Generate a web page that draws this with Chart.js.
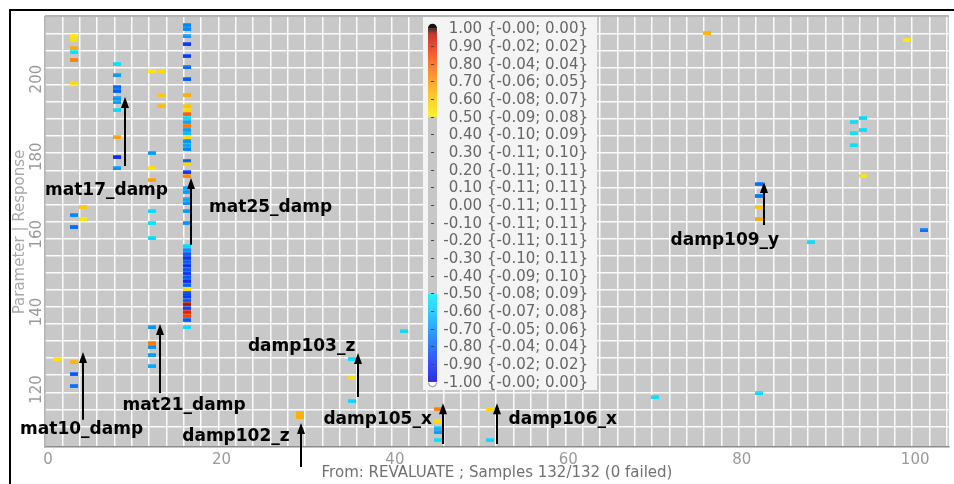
<!DOCTYPE html>
<html>
<head>
<meta charset="utf-8">
<script src="https://cdn.jsdelivr.net/npm/chart.js@4.4.1/dist/chart.umd.min.js"></script>
<style>
  html, body { margin: 0; padding: 0; background: #fff; }
</style>
</head>
<body>
<canvas id="corrChart" width="954" height="484"></canvas>
<script>
// axis labels
const xTickLabels = [0, 20, 40, 60, 80, 100];
const yTickLabels = [120, 140, 160, 180, 200];

// correlation cells, one entry per sample column: parameter indices and correlations
const colSample = [1, 3, 4, 8, 12, 13, 16, 29, 35, 41, 45, 51, 70, 76, 82, 88, 93, 94, 99, 101];
const colParams = [
  [128],
  [211, 210, 208, 207, 205, 199, 165, 162, 127, 124, 121],
  [167, 164],
  [204, 201, 198, 197, 195, 194, 192, 185, 180, 177],
  [202, 181, 177, 174, 166, 163, 159, 136, 132, 131, 129, 126],
  [202, 196, 193],
  [214, 213, 211, 209, 206, 203, 200, 196, 193, 192, 191, 190, 189, 188, 187, 186, 185, 184, 183, 182, 179, 178, 176, 175,
   172, 171, 169, 168, 166, 163, 157, 156, 155, 154, 153, 152, 151, 150, 149, 148, 147, 146, 145, 144, 143, 142, 141, 140, 139, 138, 136],
  [114, 113],
  [128, 123, 117],
  [135],
  [115, 112, 110, 109, 107],
  [115, 107],
  [118],
  [212],
  [173, 170, 167, 164, 119],
  [158],
  [189, 186, 183],
  [190, 187, 175],
  [210],
  [161]
];
const colCorr = [
  [0.53],
  [0.52, 0.54, 0.66, -0.53, 0.74, 0.56, -0.72, -0.78, 0.64, -0.8, -0.76],
  [0.6, 0.53],
  [-0.54, -0.68, -0.76, -0.8, -0.7, -0.68, -0.55, 0.68, -0.9, -0.7],
  [0.53, -0.68, 0.54, 0.68, -0.55, -0.53, -0.55, -0.7, 0.75, -0.7, -0.68, -0.66],
  [0.56, 0.6, 0.62],
  [-0.72, -0.72, -0.68, -0.88, -0.86, -0.78, -0.8, 0.65, 0.6, 0.55, 0.8, -0.55, -0.66, 0.76, -0.68, -0.62, 0.55, -0.7, -0.66, -0.72, -0.78, 0.56, -0.88, 0.73,
   -0.64, -0.68, -0.66, -0.7, -0.68, -0.7, -0.55, -0.7, -0.8, -0.88, -0.8, -0.9, -0.82, -0.88, -0.8, -0.9, -0.78, 0.55, -0.82, -0.88, -0.8, 0.97, -0.85, 0.9, 0.85, -0.8, -0.55],
  [0.65, 0.65],
  [-0.54, 0.55, -0.55],
  [-0.55],
  [0.74, 0.55, -0.62, -0.68, -0.53],
  [0.56, -0.55],
  [-0.54],
  [0.64],
  [-0.76, -0.74, 0.6, 0.66, -0.55],
  [-0.54],
  [-0.54, -0.53, -0.54],
  [-0.55, -0.54, 0.53],
  [0.52],
  [-0.76]
];

// colour scale legend
const legendLevels = ['1.00', '0.90', '0.80', '0.70', '0.60', '0.50', '0.40', '0.30', '0.20', '0.10', '0.00',
  '-0.10', '-0.20', '-0.30', '-0.40', '-0.50', '-0.60', '-0.70', '-0.80', '-0.90', '-1.00'];
const legendBounds = ['{-0.00; 0.00}', '{-0.02; 0.02}', '{-0.04; 0.04}', '{-0.06; 0.05}', '{-0.08; 0.07}',
  '{-0.09; 0.08}', '{-0.10; 0.09}', '{-0.11; 0.10}', '{-0.11; 0.11}', '{-0.11; 0.11}', '{-0.11; 0.11}',
  '{-0.11; 0.11}', '{-0.11; 0.11}', '{-0.10; 0.11}', '{-0.09; 0.10}', '{-0.08; 0.09}', '{-0.07; 0.08}',
  '{-0.05; 0.06}', '{-0.04; 0.04}', '{-0.02; 0.02}', '{-0.00; 0.00}'];

// annotations (data units)
const annoLabel = ['mat17_damp', 'mat25_damp', 'mat10_damp', 'mat21_damp', 'damp102_z', 'damp103_z', 'damp105_x', 'damp106_x', 'damp109_y'];
const annoTextX = [-0.35, 18.57, -3.22, 8.6, 15.48, 23.05, 31.76, 53.1, 71.79];
const annoTextY = [171.4, 167.0, 109.6, 115.8, 107.8, 131.0, 112.2, 112.2, 158.3];
const arrowX = [8.83, 16.51, 4.01, 12.95, 29.13, 35.78, 45.53, 51.8, 82.57];
const arrowFrom = [177.6, 157.3, 112.2, 119.1, 100.05, 118.1, 106.0, 106.0, 162.4];
const arrowTo = [195.4, 174.5, 129.7, 136.9, 111.4, 129.4, 116.5, 116.5, 173.5];

const xGridLines = [];
for (let k = 1; k <= 52; k++) xGridLines.push(2 * k - 0.35);
const yGridLines = [];
for (let k = 0; k <= 23; k++) yGridLines.push(110.5 + 4.4 * k);

const posStops = [[0.5, [255, 242, 0]], [0.6, [255, 200, 0]], [0.7, [255, 150, 0]], [0.8, [255, 95, 0]],
  [0.9, [240, 30, 0]], [0.97, [175, 20, 0]], [1.0, [30, 0, 0]]];
const negStops = [[-1.0, [0, 0, 215]], [-0.9, [10, 40, 255]], [-0.8, [0, 90, 255]], [-0.7, [0, 145, 255]],
  [-0.6, [0, 200, 255]], [-0.5, [0, 240, 255]]];

function corrColor(v) {
  if (v > -0.5 && v < 0.5) return null;
  const stops = v >= 0.5 ? posStops : negStops;
  for (let i = 0; i < stops.length - 1; i++) {
    const [a, ca] = stops[i], [b, cb] = stops[i + 1];
    if (v >= a && v <= b) {
      const t = (v - a) / (b - a);
      const c = ca.map((x, j) => Math.round(x + (cb[j] - x) * t));
      return 'rgb(' + c.join(',') + ')';
    }
  }
  return 'rgb(' + stops[stops.length - 1][1].join(',') + ')';
}

const cellCache = {};
function cellImage(v) {
  const col = corrColor(v) || '#c8c8c8';
  if (!cellCache[col]) {
    const c = document.createElement('canvas');
    c.width = 8; c.height = 4;
    const g = c.getContext('2d');
    g.fillStyle = col;
    g.fillRect(0, 0.3, 8, 3.6);
    cellCache[col] = c;
  }
  return cellCache[col];
}

const cells = [];
const cellR = [];
colSample.forEach((sx, i) => {
  colParams[i].forEach((py, j) => {
    cells.push({ x: sx, y: py });
    cellR.push(colCorr[i][j]);
  });
});

function buildTicks(labels, lines) {
  return scale => {
    const t = labels.map(v => ({ value: v }))
      .concat(lines.filter(v => v > scale.min && v < scale.max).map(v => ({ value: v, gridOnly: true })));
    t.sort((a, b) => a.value - b.value);
    scale.ticks = t;
  };
}
const gridColor = ctx => (ctx.tick && ctx.tick.gridOnly) ? 'rgba(255,255,255,0.92)' : 'rgba(0,0,0,0)';
const tickLabel = (value, i, ticks) => ticks[i].gridOnly ? '' : String(value);

const backdrop = {
  id: 'backdrop',
  beforeDraw(chart) {
    const { ctx, chartArea: a } = chart;
    ctx.save();
    ctx.fillStyle = '#fff';
    ctx.fillRect(0, 0, chart.width, chart.height);
    ctx.fillStyle = '#c8c8c8';
    ctx.fillRect(a.left, a.top, a.right - a.left, a.bottom - a.top);
    ctx.restore();
  },
  afterDraw(chart) {
    const { ctx, chartArea: a } = chart;
    ctx.save();
    ctx.fillStyle = '#b4b4b4';
    ctx.fillRect(a.left, a.top - 2, a.right - a.left, 2);
    ctx.fillStyle = '#000';
    ctx.fillRect(9, 9, chart.width, 2);
    ctx.fillRect(9, 9, 2, chart.height);
    ctx.restore();
  }
};

const overlay = {
  id: 'overlay',
  afterDatasetsDraw(chart) {
    const { ctx, chartArea: a, scales: { x, y } } = chart;
    ctx.save();
    // colour legend
    const bx = 423, bw = 174, top = a.top, bottom = 390;
    ctx.fillStyle = '#f4f4f4';
    ctx.fillRect(bx, top, bw, bottom - top);
    const y0 = 28.3, step = 17.67, barX = 428, barW = 9;
    for (let py = y0; py <= y0 + 20 * step; py += 0.5) {
      const v = 1 - (py - y0) / (10 * step);
      ctx.fillStyle = corrColor(v) || '#bdbdbd';
      ctx.fillRect(barX, py, barW, 0.6);
    }
    ctx.fillStyle = '#111';
    ctx.beginPath();
    ctx.arc(barX + barW / 2, y0, barW / 2, Math.PI, 0);
    ctx.fill();
    ctx.fillStyle = '#fff';
    ctx.strokeStyle = '#888';
    ctx.lineWidth = 1;
    ctx.beginPath();
    ctx.arc(barX + barW / 2, y0 + 20 * step + 1, barW / 2 - 0.5, 0, Math.PI);
    ctx.fill();
    ctx.stroke();
    ctx.font = '15px "DejaVu Sans"';
    ctx.textAlign = 'right';
    ctx.textBaseline = 'middle';
    legendLevels.forEach((lv, i) => {
      const ty = y0 + i * step;
      if (i > 0 && i < 20) {
        ctx.fillStyle = '#444';
        ctx.fillRect(barX + 3, Math.round(ty), 3, 1);
      }
      ctx.fillStyle = '#666';
      ctx.fillText(lv + ' ' + legendBounds[i], 588, ty + 1);
    });

    // arrows and labels
    ctx.fillStyle = '#000';
    ctx.strokeStyle = '#000';
    ctx.lineWidth = 2;
    ctx.font = 'bold 17px "DejaVu Sans"';
    ctx.textAlign = 'left';
    ctx.textBaseline = 'middle';
    annoLabel.forEach((lab, i) => {
      const ax = Math.round(x.getPixelForValue(arrowX[i]));
      const ya = y.getPixelForValue(arrowFrom[i]);
      const yb = y.getPixelForValue(arrowTo[i]);
      ctx.beginPath();
      ctx.moveTo(ax, ya);
      ctx.lineTo(ax, yb + 8);
      ctx.stroke();
      ctx.beginPath();
      ctx.moveTo(ax, yb);
      ctx.lineTo(ax - 4, yb + 11);
      ctx.lineTo(ax + 4, yb + 11);
      ctx.closePath();
      ctx.fill();
      ctx.fillText(lab, x.getPixelForValue(annoTextX[i]), y.getPixelForValue(annoTextY[i]));
    });
    ctx.restore();
  }
};

Chart.defaults.font.family = '"DejaVu Sans", sans-serif';

new Chart('corrChart', {
  type: 'scatter',
  data: {
    datasets: [{
      data: cells,
      pointStyle: ctx => cellImage(cellR[ctx.dataIndex]),
      pointRadius: 4,
      pointHoverRadius: 4
    }]
  },
  options: {
    responsive: false,
    animation: false,
    events: [],
    layout: { padding: { top: 17, right: 0, left: 0, bottom: 0 } },
    plugins: { legend: { display: false }, tooltip: { enabled: false } },
    scales: {
      x: {
        type: 'linear',
        min: -0.35,
        max: 103.9,
        afterBuildTicks: buildTicks(xTickLabels, xGridLines),
        afterFit: s => { s.height = 37; },
        ticks: { autoSkip: false, maxRotation: 0, padding: 4, color: '#9a9a9a', font: { size: 15 }, callback: tickLabel },
        grid: { color: gridColor, lineWidth: 1.5, drawTicks: false },
        border: { color: '#8c8c8c', width: 1.5 },
        title: { display: true, text: 'From: REVALUATE ; Samples 132/132 (0 failed)', color: '#707070',
          font: { size: 15 }, padding: { top: 0, bottom: 2 } }
      },
      y: {
        type: 'linear',
        min: 105.2,
        max: 216.0,
        afterBuildTicks: buildTicks(yTickLabels, yGridLines),
        afterFit: s => { s.width = 45; },
        ticks: { autoSkip: false, minRotation: 90, maxRotation: 90, crossAlign: 'center', padding: -6.8,
          color: '#9a9a9a', font: { size: 15 }, callback: tickLabel },
        grid: { color: gridColor, lineWidth: 1.5, drawTicks: false },
        border: { color: '#b4b4b4', width: 1.5 },
        title: { display: true, text: 'Parameter | Response', color: '#a8a8a8',
          font: { size: 15 }, padding: { top: 11, bottom: 0 } }
      }
    }
  },
  plugins: [backdrop, overlay]
});
</script>
</body>
</html>
